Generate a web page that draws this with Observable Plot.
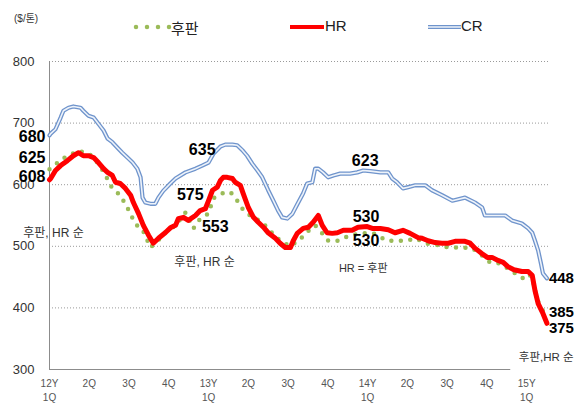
<!DOCTYPE html>
<html>
<head>
<meta charset="utf-8">
<script src="https://cdn.jsdelivr.net/npm/d3@7"></script>
<script src="https://cdn.jsdelivr.net/npm/@observablehq/plot@0.6"></script>
<style>
  html, body { margin: 0; padding: 0; background: #fff; }
  #wrap { position: relative; width: 574px; height: 405px; overflow: hidden;
          font-family: "Liberation Sans", Arial, "Noto Sans CJK KR", sans-serif; }
  #chart { position: absolute; left: 0; top: 0; }
  .lg { position: absolute; color: #222; white-space: nowrap; }
</style>
</head>
<body>
<div id="wrap">
  <div id="chart"></div>
  <div class="lg" style="left:14px; top:10px; font-size:10px; color:#333;">($/톤)</div>
  <svg class="lg" style="left:130px; top:22px;" width="44" height="10">
    <line x1="6" y1="5" x2="40" y2="5" stroke="#9bbb59" stroke-width="4.5" stroke-linecap="round" stroke-dasharray="0,11"/>
  </svg>
  <div class="lg" style="left:171px; top:17px; font-size:15px;">후판</div>
  <svg class="lg" style="left:290px; top:22px;" width="36" height="10">
    <line x1="0" y1="5" x2="34" y2="5" stroke="#ff0000" stroke-width="4"/>
  </svg>
  <div class="lg" style="left:325px; top:17px; font-size:15px;">HR</div>
  <svg class="lg" style="left:428px; top:22px;" width="36" height="10">
    <line x1="0" y1="5" x2="33" y2="5" stroke="#6f94cc" stroke-width="4"/>
    <line x1="0" y1="5" x2="33" y2="5" stroke="#eef3fa" stroke-width="1.5"/>
  </svg>
  <div class="lg" style="left:461px; top:17px; font-size:15px;">CR</div>
</div>
<script>
// x = quarters since 12Y 1Q
const quarterTicks = [0,1,2,3,4,5,6,7,8,9,10,11,12];
const quarterLabels = ["12Y\n1Q","2Q","3Q","4Q","13Y\n1Q","2Q","3Q","4Q","14Y\n1Q","2Q","3Q","4Q","15Y\n1Q"];
const yTicks = [300,400,500,600,700,800];
const gridValues = [400,500,600,700,800];

const crX = [0.00,0.03,0.15,0.28,0.35,0.48,0.60,0.78,0.85,0.98,1.11,1.23,1.36,1.46,1.58,1.71,1.83,1.96,2.09,2.21,2.29,2.34,2.41,2.54,2.66,2.74,2.86,3.04,3.17,3.42,3.67,3.84,4.00,4.12,4.30,4.42,4.60,4.72,4.85,4.97,5.10,5.23,5.35,5.50,5.63,5.75,5.85,5.98,6.11,6.23,6.38,6.48,6.61,6.68,6.76,6.88,7.01,7.14,7.31,7.56,7.74,7.89,8.07,8.32,8.52,8.62,8.74,8.89,9.02,9.20,9.45,9.62,9.87,10.13,10.45,10.70,10.88,10.95,11.21,11.46,11.63,11.88,12.04,12.14,12.21,12.29,12.36,12.41,12.51];
const crV = [680,683,690,709,720,725,727,725,720,712,709,699,688,675,669,660,652,644,636,626,612,579,571,569,569,579,590,602,610,620,626,631,636,650,662,665,665,664,656,647,634,623,612,591,574,558,547,545,553,568,586,602,604,626,626,620,612,615,618,618,620,623,622,620,620,610,604,594,596,599,599,591,583,574,579,571,563,550,550,550,542,537,529,522,509,493,472,456,448];

const hrX = [0.00,0.03,0.15,0.28,0.45,0.60,0.73,0.85,0.98,1.11,1.23,1.36,1.46,1.58,1.66,1.78,1.91,2.04,2.11,2.24,2.36,2.49,2.61,2.74,2.91,3.04,3.17,3.24,3.37,3.49,3.67,3.79,3.92,4.00,4.10,4.22,4.30,4.37,4.47,4.60,4.67,4.80,4.87,5.00,5.13,5.25,5.38,5.50,5.68,5.80,5.93,6.06,6.13,6.23,6.38,6.51,6.63,6.76,6.86,6.98,7.11,7.24,7.39,7.61,7.76,7.99,8.12,8.32,8.52,8.69,8.89,9.07,9.27,9.37,9.52,9.70,9.87,10.03,10.20,10.45,10.58,10.70,10.88,11.01,11.13,11.28,11.41,11.53,11.68,11.88,12.04,12.14,12.21,12.29,12.41,12.51];
const hrV = [608,610,623,631,639,647,652,647,647,644,636,626,620,615,604,602,594,583,571,553,534,518,505,513,522,530,534,545,547,542,550,558,561,574,591,596,607,612,612,610,604,599,586,563,547,539,531,522,513,505,498,498,509,521,529,531,539,550,534,522,521,522,526,526,531,532,529,529,527,522,526,521,514,513,509,506,505,505,508,508,505,497,488,482,482,477,474,467,462,459,459,453,428,407,391,375];

const plateX = [0.00,0.15,0.40,0.73,0.98,1.16,1.36,1.58,1.78,1.98,2.16,2.34,2.54,2.74,2.91,3.17,3.42,3.62,3.79,4.00,4.12,4.35,4.55,4.72,4.85,4.97,5.18,5.35,5.55,5.80,6.06,6.31,6.51,6.68,6.86,7.01,7.24,7.56,7.86,8.14,8.49,8.74,9.00,9.20,9.52,9.77,10.03,10.33,10.63,10.88,11.08,11.33,11.58,11.76,11.91,12.04,12.14,12.21,12.29,12.41,12.51];
const plateV = [625,633,645,655,651,640,621,594,583,560,536,527,498,510,522,534,555,529,545,553,578,586,588,574,561,553,545,539,525,509,500,512,525,534,521,509,509,518,521,521,509,509,509,513,504,502,498,498,497,485,474,472,462,454,448,455,450,428,410,395,385];

// value callouts
const annoText = ["680","625","608","635","575","553","623","530","530","448","385","375"];
const annoX = [-0.1,-0.1,-0.1,3.84,3.54,4.17,7.94,7.96,7.96,12.56,12.56,12.56];
const annoY = [678,644,612,657,584,532,638,547,508,449,393,367];
const annoAnchor = ["end","end","end","middle","middle","middle","middle","middle","middle","start","start","start"];
const annoSize = [16,16,16,16,16,16,16,16,16,15,15,15];

const noteText = ["후판, HR 순","후판, HR 순","HR = 후판","후판,HR 순"];
const noteX = [0.1,3.9,7.89,13.18];
const noteY = [522,475,464,320];
const noteSize = [12,12,11,11.5];
const noteAnchor = ["middle","middle","middle","end"];

const toRows = (xs, vs) => xs.map((x, i) => ({x, v: vs[i]}));
const cr = toRows(crX, crV);
const hr = toRows(hrX, hrV);
const plate = toRows(plateX, plateV);
const annos = annoText.map((t, i) => ({t, x: annoX[i], y: annoY[i], a: annoAnchor[i], s: annoSize[i]}));
const notes = noteText.map((t, i) => ({t, x: noteX[i], y: noteY[i], s: noteSize[i], a: noteAnchor[i]}));

const annoMarks = ["start", "middle", "end"].map((a) =>
  Plot.text(annos.filter((d) => d.a === a), {x: "x", y: "y", text: "t", textAnchor: a, fontSize: "s", fontWeight: "bold", fill: "#000"}));
const noteMarks = ["middle", "end"].map((a) =>
  Plot.text(notes.filter((d) => d.a === a), {x: "x", y: "y", text: "t", textAnchor: a, fontSize: "s", fill: "#333"}));

const chart = Plot.plot({
  width: 574,
  height: 405,
  marginLeft: 49,
  marginRight: 24,
  marginTop: 61,
  marginBottom: 36,
  x: {domain: [0, 12.6]},
  y: {domain: [300, 800]},
  style: {fontFamily: '"Liberation Sans", Arial, "Noto Sans CJK KR", sans-serif', background: "white", overflow: "visible"},
  marks: [
    Plot.ruleY(gridValues, {stroke: "#9a9a9a", strokeDasharray: "1,2", strokeWidth: 1}),
    Plot.ruleX([0], {y1: 300, y2: 800, stroke: "#8c8c8c", strokeWidth: 1}),
    Plot.ruleY([300], {x1: 0, x2: 11.6, stroke: "#8c8c8c", strokeWidth: 1}),
    Plot.axisY({ticks: yTicks, tickSize: 0, tickPadding: 15, fontSize: 13, fill: "#333", label: null}),
    Plot.axisX({ticks: quarterTicks, tickSize: 0, tickPadding: 8, fontSize: 10, fill: "#555",
      lineHeight: 1.4, label: null, tickFormat: (d) => quarterLabels[d]}),
    Plot.line(plate, {x: "x", y: "v", stroke: "#9bbb59", strokeWidth: 4.5, strokeLinecap: "round", strokeDasharray: "0,9.5"}),
    Plot.line(cr, {x: "x", y: "v", stroke: "#6f94cc", strokeWidth: 4.2, strokeLinejoin: "round"}),
    Plot.line(cr, {x: "x", y: "v", stroke: "#eef3fa", strokeWidth: 1.6, strokeLinejoin: "round"}),
    Plot.line(hr, {x: "x", y: "v", stroke: "#ff0000", strokeWidth: 5, strokeLinejoin: "round", strokeLinecap: "round"}),
    ...annoMarks,
    ...noteMarks
  ]
});
document.getElementById("chart").appendChild(chart);
</script>
</body>
</html>
